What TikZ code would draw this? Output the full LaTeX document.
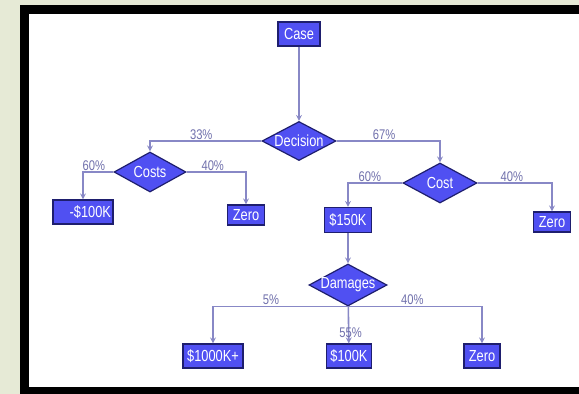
\documentclass[tikz,border=0pt]{standalone}
\usepackage{fontspec}
\setmainfont{Liberation Sans}
\newfontfamily\narrowsans[FakeStretch=0.8]{Liberation Sans}
\usepackage{tikz}
\usetikzlibrary{shapes.geometric}
\definecolor{frame_green}{HTML}{E6EAD6}
\definecolor{box_blue}{HTML}{5050F2}
\definecolor{box_border}{HTML}{1E1E6E}
\definecolor{link_gray}{HTML}{8888C6}
\definecolor{label_gray}{HTML}{7070AC}

\begin{document}
\begin{tikzpicture}[x=1pt,y=-1pt,>=stealth,
    box/.style={draw=box_border, line width=1.2pt, fill=box_blue, text=white,
        inner sep=0pt, font=\narrowsans\fontsize{16}{16}\selectfont},
    dia/.style={diamond, draw=box_border, line width=1.2pt, fill=box_blue, text=white,
        inner sep=0pt, font=\narrowsans\fontsize{16}{16}\selectfont},
    link/.style={->, draw=link_gray, line width=1.6pt},
    pct/.style={text=label_gray, font=\narrowsans\fontsize{14}{14}\selectfont, inner sep=1pt}]

    % Fond et cadre
    \useasboundingbox (0,0) rectangle (579,394);
    \clip (0,0) rectangle (579,394);
    \fill[frame_green] (0,0) rectangle (579,394);
    \draw[line width=9pt, fill=white] (24.5,9.5) rectangle (600,391.5);

    % Les noeuds de décision
    \node[box, minimum width=42, minimum height=24] (case) at (299,34) {Case};
    \node[dia, minimum width=74, minimum height=39] (dec) at (299,141) {\makebox[0pt]{Decision}};
    \node[dia, minimum width=72, minimum height=40] (costs) at (150,172) {\makebox[0pt]{Costs}};
    \node[dia, minimum width=74, minimum height=40] (cost) at (440,183) {\makebox[0pt]{Cost}};
    \node[dia, minimum width=78, minimum height=42] (dmg) at (348,285) {\makebox[0pt]{Damages}};

    % Les résultats
    \node[box, minimum width=60, minimum height=24, text width=56, align=right] (neg) at (83,212) {-\$100K};
    \node[box, minimum width=37, minimum height=20] (zeroA) at (246,215) {Zero};
    \node[box, minimum width=47, minimum height=25] (cent) at (348,220) {\$150K};
    \node[box, minimum width=37, minimum height=20] (zeroB) at (552,222) {Zero};
    \node[box, minimum width=60, minimum height=24] (big) at (213,356) {\$1000K+};
    \node[box, minimum width=45, minimum height=24] (hund) at (349,356) {\$100K};
    \node[box, minimum width=36, minimum height=24] (zeroC) at (482,356) {Zero};

    % Les branches avec leurs probabilités
    \draw[link] (case) -- (dec);
    \draw[link] (dec.west) -| (costs.north) node[pct, pos=0.27, above] {33\%};
    \draw[link] (dec.east) -| (cost.north) node[pct, pos=0.23, above] {67\%};
    \draw[link] (costs.west) -| (neg.north) node[pct, pos=0.32, above] {60\%};
    \draw[link] (costs.east) -| (zeroA.north) node[pct, pos=0.22, above] {40\%};
    \draw[link] (cost.west) -| (cent.north) node[pct, pos=0.3, above] {60\%};
    \draw[link] (cost.east) -| (zeroB.north) node[pct, pos=0.23, above] {40\%};
    \draw[link] (cent) -- (dmg);
    \draw[link] (dmg.south) -| (big.north) node[pct, pos=0.285, above] {5\%};
    \draw[link] (dmg.south) -| (zeroC.north) node[pct, pos=0.24, above] {40\%};
    \draw[link] (dmg) -- (hund) node[pct, pos=0.7, xshift=2] {55\%};
\end{tikzpicture}
\end{document}
